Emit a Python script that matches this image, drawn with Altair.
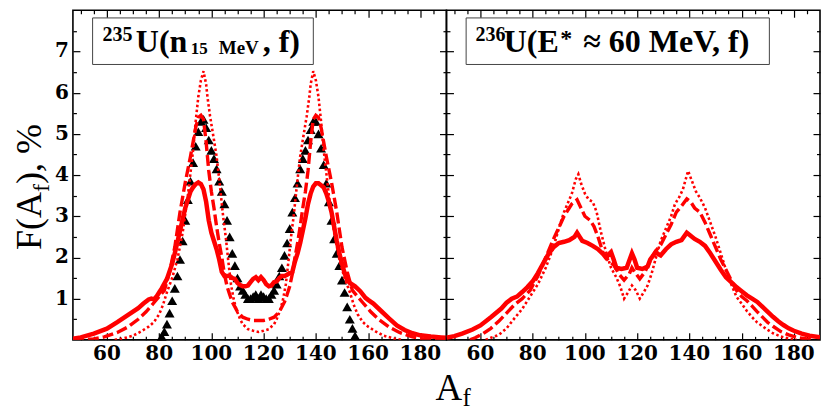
import altair as alt
import pandas as pd

FONT = "Liberation Serif"
TICKFONT = "DejaVu Serif"
RED = "#ff0000"
XDOM = [47, 190]
YDOM = [0, 8]
W, H = 374, 330

X_MAJOR = [60, 80, 100, 120, 140, 160, 180]
X_MINOR = [50, 55, 65, 70, 75, 85, 90, 95, 105, 110, 115, 125, 130, 135, 145, 150, 155, 165, 170, 175, 185]
Y_MAJOR = [1, 2, 3, 4, 5, 6, 7]
Y_MINOR = [0.5, 1.5, 2.5, 3.5, 4.5, 5.5, 6.5, 7.5]

# ---- left panel: 235U(n 15 MeV, f) ----
EXP_A = list(range(81, 156))
EXP_F = [0.08, 0.2, 0.38, 0.65, 0.95, 1.25, 1.55, 1.95, 2.4, 2.9,
         3.4, 3.85, 4.3, 4.7, 5.05, 5.3, 5.35, 5.15, 4.85, 4.6,
         4.4, 4.15, 3.85, 3.6, 3.3, 2.9, 2.5, 2.1, 1.8, 1.5,
         1.3, 1.2, 1.1, 1.0, 1.0, 1.05, 1.1, 1.0, 1.1, 1.05,
         1.0, 1.0, 1.1, 1.2, 1.35, 1.55, 1.75, 2.05, 2.35, 2.7,
         3.1, 3.45, 3.8, 4.15, 4.4, 4.6, 4.85, 5.1, 5.3, 5.3,
         5.0, 4.65, 4.25, 3.8, 3.35, 2.9, 2.45, 2.1, 1.8, 1.45,
         1.15, 0.8, 0.5, 0.28, 0.1]

L_SOL_A = [47, 50, 55, 60, 64, 68, 72, 74, 76, 77,
           78, 79, 80, 81, 83, 85, 86, 88, 90, 92,
           93, 94, 95, 96, 97, 98, 99, 100, 101, 102,
           103, 104, 105, 106, 107, 108, 109, 110, 111, 112,
           113, 114, 115, 116, 117, 118, 119, 120, 121, 122,
           123, 124, 125, 126, 127, 128, 129, 130, 131, 132,
           133, 134, 135, 136, 137, 138, 139, 140, 141, 142,
           143, 144, 145, 146, 147, 148, 149, 150, 151, 152,
           153, 155, 157, 159, 160, 162, 165, 168, 171, 174,
           177, 180, 184, 188, 190]
L_SOL_F = [0.03, 0.06, 0.15, 0.27, 0.43, 0.6, 0.77, 0.88, 0.98, 1.0,
           0.98, 1.05, 1.15, 1.25, 1.48, 1.85, 2.1, 2.65, 3.2, 3.6,
           3.7, 3.78, 3.82, 3.78, 3.65, 3.35, 2.9, 2.6, 2.4, 2.2,
           1.95, 1.65, 1.55, 1.55, 1.55, 1.5, 1.48, 1.38, 1.33, 1.3,
           1.3, 1.32, 1.4, 1.48, 1.52, 1.45, 1.52, 1.45, 1.35, 1.3,
           1.32, 1.4, 1.42, 1.5, 1.55, 1.55, 1.58, 1.62, 1.65, 1.9,
           2.1, 2.35, 2.65, 2.95, 3.3, 3.55, 3.72, 3.8, 3.8, 3.75,
           3.7, 3.55, 3.35, 3.1, 2.75, 2.4, 2.1, 1.85, 1.62, 1.45,
           1.38, 1.3, 1.18, 1.02, 0.97, 0.88, 0.7, 0.52, 0.35, 0.24,
           0.16, 0.11, 0.08, 0.06, 0.05]

L_DSH_A = [47, 55, 59, 64, 68, 72, 75, 78, 80, 82,
           84, 86, 88, 90, 92, 93, 94, 95, 96, 97,
           98, 99, 100, 101, 102, 103, 104, 105, 106, 107,
           108, 110, 112, 114, 116, 118, 120, 122, 124, 126,
           128, 129, 130, 131, 132, 133, 134, 135, 136, 137,
           138, 139, 140, 141, 142, 143, 144, 146, 148, 150,
           152, 154, 156, 158, 161, 164, 168, 172, 177, 181,
           186, 190]
L_DSH_F = [0.0, 0.02, 0.07, 0.18, 0.31, 0.5, 0.68, 0.9, 1.05, 1.2,
           1.65, 2.25, 3.1, 3.82, 4.45, 4.8, 5.15, 5.4, 5.45, 5.35,
           4.8, 4.1, 3.6, 3.2, 2.75, 2.35, 2.0, 1.6, 1.3, 1.1,
           0.92, 0.68, 0.55, 0.5, 0.47, 0.47, 0.47, 0.5, 0.55, 0.68,
           0.92, 1.1, 1.3, 1.6, 2.0, 2.35, 2.75, 3.2, 3.6, 4.1,
           4.8, 5.35, 5.45, 5.4, 5.15, 4.8, 4.45, 3.82, 3.1, 2.25,
           1.65, 1.2, 1.05, 0.9, 0.68, 0.5, 0.31, 0.18, 0.07, 0.02,
           0.0, 0.0]

L_DOT_A = [63, 66, 70, 73, 76, 78, 80, 81.5, 83, 85,
           87, 89, 91, 93, 94, 95, 96, 97, 98, 98.5,
           99.5, 101, 102, 103, 104.5, 105.5, 106.5, 107.5, 108.5, 109.5,
           111, 112, 114, 116, 118, 120, 122, 124, 125, 126.5,
           127.5, 128.5, 129.5, 130.5, 131.5, 133, 134, 135, 136.5, 137.5,
           138, 139, 140, 141, 142, 143, 145, 147, 149, 151,
           153, 154.5, 156, 158, 160, 163, 166, 170, 173]
L_DOT_F = [0.0, 0.03, 0.1, 0.2, 0.32, 0.43, 0.62, 0.85, 1.16, 1.5,
           1.95, 2.6, 3.5, 4.6, 5.3, 5.9, 6.3, 6.52, 6.2, 5.9,
           5.43, 4.85, 4.45, 3.9, 3.0, 2.5, 1.9, 1.35, 1.0, 0.75,
           0.5, 0.38, 0.26, 0.22, 0.19, 0.22, 0.26, 0.38, 0.5, 0.75,
           1.0, 1.35, 1.9, 2.5, 3.0, 3.9, 4.45, 4.85, 5.43, 5.9,
           6.2, 6.52, 6.3, 5.9, 5.3, 4.6, 3.5, 2.6, 1.95, 1.5,
           1.16, 0.85, 0.62, 0.43, 0.32, 0.2, 0.1, 0.03, 0.0]

# ---- right panel: 236U(E* ~ 60 MeV, f) ----
R_SOL_A = [47, 50, 53, 57, 60, 64, 68, 70, 72, 74,
           76, 78, 80, 82, 84, 86, 88, 90, 92, 94,
           96, 97, 98, 99, 101, 103, 105, 107, 108, 110,
           111, 112, 114, 116, 118, 119, 120, 122, 124, 125,
           127, 129, 131, 133, 135, 137, 139, 140, 142, 144,
           146, 148, 150, 152, 154, 156, 158, 160, 162, 164,
           166, 168, 170, 172, 174, 176, 178, 180, 183, 186,
           190]
R_SOL_F = [0.05, 0.09, 0.15, 0.25, 0.35, 0.55, 0.76, 0.9, 1.0, 1.05,
           1.16, 1.28, 1.42, 1.62, 1.85, 2.08, 2.25, 2.35, 2.38, 2.42,
           2.5, 2.6, 2.5, 2.4, 2.35, 2.28, 2.2, 2.08, 2.0, 2.13,
           1.95, 1.75, 1.72, 1.75, 2.1, 1.95, 1.75, 1.72, 1.78, 1.95,
           2.12, 2.05, 2.2, 2.32, 2.38, 2.42, 2.6, 2.55, 2.45, 2.38,
           2.28, 2.1, 1.9, 1.7, 1.52, 1.4, 1.28, 1.18, 1.08, 1.0,
           0.92, 0.8, 0.68, 0.56, 0.45, 0.36, 0.28, 0.22, 0.15, 0.1,
           0.06]

R_DSH_A = [56, 58, 61, 64, 67, 70, 73, 76, 79, 82,
           85, 88, 90, 92, 94, 95, 97, 98.5, 100, 102,
           103.5, 105, 107, 109, 111, 113, 115, 117, 118, 119,
           121, 123, 125, 127, 129, 131, 133, 135, 137, 139,
           140.5, 142, 144, 146, 148, 150, 152, 154, 156, 158,
           160, 162, 164, 166, 168, 170, 172, 175, 178, 181,
           185, 188]
R_DSH_F = [0.0, 0.05, 0.15, 0.28, 0.45, 0.65, 0.85, 1.0, 1.2, 1.55,
           2.0, 2.45, 2.72, 3.0, 3.2, 3.3, 3.4, 3.2, 3.0, 2.9,
           2.75, 2.5, 2.1, 1.92, 1.82, 1.6, 1.45, 1.6, 1.75, 1.65,
           1.48, 1.65, 1.92, 2.15, 2.3, 2.55, 2.8, 3.1, 3.25, 3.42,
           3.35, 3.2, 3.1, 2.85, 2.55, 2.25, 1.95, 1.7, 1.45, 1.2,
           1.05, 0.95, 0.82, 0.68, 0.55, 0.42, 0.33, 0.2, 0.12, 0.06,
           0.02, 0.0]

R_DOT_A = [62, 64, 67, 70, 73, 76, 79, 82, 85, 88,
           90, 92, 94, 95, 96.5, 97.5, 98.5, 100, 101.5, 103,
           104.5, 106, 108, 110, 112, 113.5, 115, 116.5, 118, 119.5,
           121, 122.5, 124, 125.5, 127, 129, 131, 133, 134.5, 136,
           137.5, 139.5, 141, 142.5, 144, 146, 148, 150, 152, 154,
           156, 158, 160, 162, 164, 166, 168, 170, 172, 175,
           178, 181]
R_DOT_F = [0.0, 0.05, 0.12, 0.28, 0.52, 0.75, 1.05, 1.35, 1.75, 2.25,
           2.7, 3.1, 3.4, 3.55, 3.9, 4.02, 3.8, 3.55, 3.4, 3.35,
           3.1, 2.65, 2.15, 1.75, 1.52, 1.3, 1.0, 1.15, 1.32, 1.2,
           1.0, 1.15, 1.32, 1.6, 1.95, 2.4, 2.7, 3.0, 3.3, 3.45,
           3.65, 4.1, 3.85, 3.6, 3.45, 3.2, 2.85, 2.5, 2.1, 1.7,
           1.35, 1.05, 0.88, 0.7, 0.55, 0.42, 0.33, 0.24, 0.16, 0.08,
           0.03, 0.0]

for a, f in [(EXP_A, EXP_F), (L_SOL_A, L_SOL_F), (L_DSH_A, L_DSH_F), (L_DOT_A, L_DOT_F),
             (R_SOL_A, R_SOL_F), (R_DSH_A, R_DSH_F), (R_DOT_A, R_DOT_F)]:
    assert len(a) == len(f), (len(a), len(f))

XS = alt.Scale(domain=XDOM, nice=False, zero=False)
YS = alt.Scale(domain=YDOM, nice=False, zero=False)
CORNERS = pd.DataFrame({"A": XDOM, "F": YDOM})
ONE = pd.DataFrame({"k": [0]})

TICK_AX = dict(labels=False, tickColor="black", tickWidth=1.2, domain=False, grid=False, title=None)
LBL = dict(font=TICKFONT, fontSize=20, fontWeight="bold", color="black")


def line_layer(A, F, width, dash=None):
    df = pd.DataFrame({"A": A, "F": F})
    kw = dict(color=RED, strokeWidth=width, clip=True)
    if dash:
        kw["strokeDash"] = dash
    return alt.Chart(df).mark_line(**kw).encode(
        x=alt.X("A:Q", scale=XS, axis=None),
        y=alt.Y("F:Q", scale=YS, axis=None))


def ax_layer(xaxis, yaxis):
    return alt.Chart(CORNERS).mark_point(opacity=0, size=1).encode(
        x=alt.X("A:Q", scale=XS, axis=xaxis),
        y=alt.Y("F:Q", scale=YS, axis=yaxis))


def ticks(orient, values, size):
    return alt.Axis(orient=orient, values=values, tickSize={"expr": str(-size)}, **TICK_AX)


def axis_layers(ylabels):
    layers = [
        ax_layer(ticks("bottom", X_MAJOR, 7), ticks("left", Y_MAJOR, 7)),
        ax_layer(ticks("bottom", X_MINOR, 3.5), ticks("left", Y_MINOR, 3.5)),
        ax_layer(ticks("top", X_MAJOR, 7), ticks("right", Y_MAJOR, 7)),
        ax_layer(ticks("top", X_MINOR, 3.5), ticks("right", Y_MINOR, 3.5)),
        # x tick labels, placed with the x scale
        alt.Chart(pd.DataFrame({"v": X_MAJOR})).mark_text(
            align="center", baseline="top", **LBL).encode(
            x=alt.X("v:Q", scale=XS, axis=None), y=alt.value(H + 4),
            text=alt.Text("v:Q", format="d")),
    ]
    if ylabels:
        layers.append(
            alt.Chart(pd.DataFrame({"v": Y_MAJOR})).mark_text(
                align="right", baseline="middle", **LBL).encode(
                y=alt.Y("v:Q", scale=YS, axis=None), x=alt.value(-4),
                text=alt.Text("v:Q", format="d")))
    return layers


def txt(s, x, y, size, weight="bold", angle=None):
    kw = dict(text=s, font=FONT, fontSize=size, fontWeight=weight, color="black",
              align="left", baseline="alphabetic")
    if angle is not None:
        kw["angle"] = angle
    return alt.Chart(ONE).mark_text(**kw).encode(x=alt.value(x), y=alt.value(y))


def box(x1, x2, y1, y2):
    return alt.Chart(ONE).mark_rect(fill="white", stroke="#444444", strokeWidth=1).encode(
        x=alt.value(x1), x2=alt.value(x2), y=alt.value(y1), y2=alt.value(y2))


exp_layer = alt.Chart(pd.DataFrame({"A": EXP_A, "F": EXP_F})).mark_point(
    shape="triangle-up", filled=True, color="black", opacity=1, size=100).encode(
    x=alt.X("A:Q", scale=XS, axis=None), y=alt.Y("F:Q", scale=YS, axis=None))

left = alt.layer(
    *axis_layers(True),
    exp_layer,
    line_layer(L_DOT_A, L_DOT_F, 2.6, [2.5, 2.5]),
    line_layer(L_DSH_A, L_DSH_F, 3.4, [11, 4]),
    line_layer(L_SOL_A, L_SOL_F, 4.5),
    box(19.7, 240.7, 7.7, 54.3),
    txt("235", 29.7, 31, 20),
    txt("U(n", 63, 42, 32),
    txt("15", 118, 44, 17),
    txt("MeV", 146, 44, 19),
    txt(", f)", 190, 42, 32),
    # y-axis title F(A_f), %
    txt("F(A", -32, 240, 36, weight="normal", angle=270),
    txt("f", -24, 182, 24, weight="normal", angle=270),
    txt("), %", -32, 174, 36, weight="normal", angle=270),
    # x-axis title A_f
    txt("A", 363, 390, 37, weight="normal"),
    txt("f", 390, 396, 25, weight="normal"),
).properties(width=W, height=H).resolve_axis(x="independent", y="independent")

right = alt.layer(
    *axis_layers(False),
    line_layer(R_DOT_A, R_DOT_F, 2.6, [2.5, 2.5]),
    line_layer(R_DSH_A, R_DSH_F, 3.4, [11, 4]),
    line_layer(R_SOL_A, R_SOL_F, 4.5),
    box(19.7, 323.3, 7.7, 54.3),
    txt("236", 29, 31, 20),
    txt("U(E", 57.3, 42, 32),
    txt("*", 114, 36, 24),
    txt("≈ 60 MeV, f)", 137, 42, 32),
).properties(width=W, height=H).resolve_axis(x="independent", y="independent")

chart = alt.hconcat(left, right, spacing=0, bounds="flush").properties(
    padding={"left": 3, "top": 0, "right": 0, "bottom": 0}
).configure_view(stroke="black", strokeWidth=1.6)

chart.save("out.html", embed_options={"renderer": "svg", "actions": False})
